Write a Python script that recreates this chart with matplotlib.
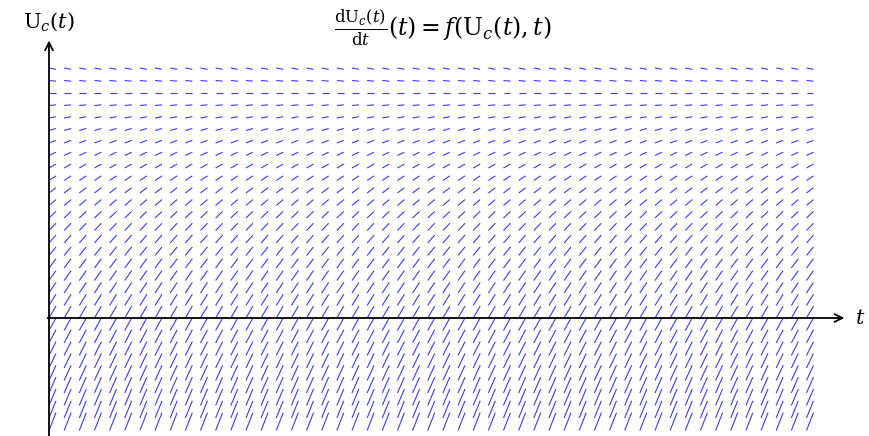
import numpy as np
import matplotlib.pyplot as plt
from matplotlib.collections import LineCollection

plt.rcParams['mathtext.fontset'] = 'dejavuserif'

# grid of the slope field: time steps and capacitor voltage levels
t_vals = np.arange(0, 51, 1)
u_vals = np.arange(-9, 21, 1)
E = 18.0      # source voltage (equilibrium level)
tau = 8.7     # time constant RC
dt = 0.46     # horizontal extent of each slope segment

def f(u, t):
    return (E - u) / tau

segs = []
for u in u_vals:
    for t in t_vals:
        segs.append([(t, u), (t + dt, u + dt * f(u, t))])

fig = plt.figure(figsize=(8.7, 4.36), dpi=100)
ax = fig.add_axes([0, 0, 1, 1])
ax.set_xlim(-49 / 15.15, (870 - 49) / 15.15)
ax.set_ylim(-118 / 12.5, 318 / 12.5)
ax.axis('off')

ax.add_collection(LineCollection(segs, colors='#3a3aff', linewidths=0.8))

# axes with arrow heads
arrow = dict(arrowstyle='->', color='black', lw=1.3, shrinkA=0, shrinkB=0,
             mutation_scale=14)
ax.annotate('', xy=(0, 22.2), xytext=(0, -9.5), arrowprops=arrow)
ax.annotate('', xy=(52.5, 0), xytext=(-0.1, 0), arrowprops=arrow)

ax.text(0, 23.7, r'$\mathrm{U}_c(t)$', fontsize=15, ha='center', va='center')
ax.text(53.2, 0, r'$t$', fontsize=15, ha='left', va='center')
ax.text(26.0, 23.2,
        r'$\frac{\mathrm{dU}_c(t)}{\mathrm{d}t}(t) = f(\mathrm{U}_c(t),t)$',
        fontsize=17, ha='center', va='center')

fig.savefig('out.png', dpi=100)
